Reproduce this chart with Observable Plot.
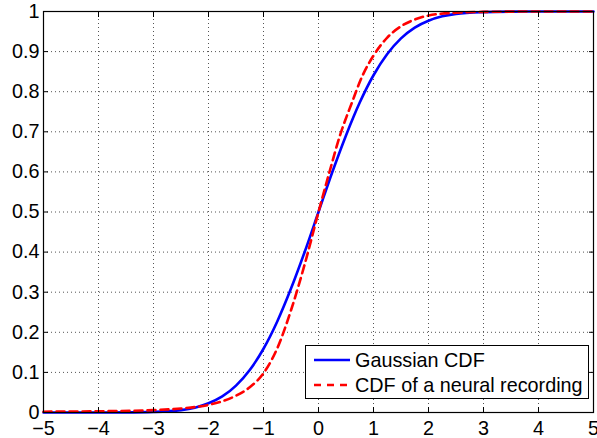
<!DOCTYPE html>
<html>
<head>
<meta charset="utf-8">
<script src="https://cdn.jsdelivr.net/npm/d3@7"></script>
<script src="https://cdn.jsdelivr.net/npm/@observablehq/plot@0.6"></script>
<style>
  html, body { margin: 0; padding: 0; background: white; }
  #chart { width: 597px; height: 438px; }
</style>
</head>
<body>
<div id="chart"></div>
<script>
const gaussX = [-5, -4, -3.5, -3, -2.5, -2.25, -2, -1.75, -1.5, -1.25, -1, -0.75, -0.5, -0.25, 0, 0.25, 0.5, 0.75, 1, 1.25, 1.5, 1.75, 2, 2.25, 2.5, 3, 3.5, 4, 5];
const gaussY = [0, 0.0001, 0.0003, 0.0015, 0.006, 0.012, 0.023, 0.04, 0.067, 0.106, 0.159, 0.227, 0.309, 0.401, 0.5, 0.599, 0.691, 0.773, 0.841, 0.894, 0.933, 0.96, 0.977, 0.988, 0.994, 0.9985, 0.9998, 1, 1];
const neuralX = [-5, -4, -3, -2.5, -2, -1.75, -1.5, -1.25, -1, -0.75, -0.5, -0.25, 0, 0.2, 0.4, 0.6, 0.8, 1, 1.25, 1.5, 1.75, 2, 2.5, 3, 4, 5];
const neuralY = [0.002, 0.003, 0.006, 0.01, 0.019, 0.028, 0.042, 0.063, 0.098, 0.16, 0.255, 0.37, 0.5, 0.6, 0.695, 0.77, 0.84, 0.89, 0.935, 0.963, 0.98, 0.99, 0.997, 0.999, 1, 1];
const xTicks = [-5, -4, -3, -2, -1, 0, 1, 2, 3, 4, 5];
const yTicks = [0, 0.1, 0.2, 0.3, 0.4, 0.5, 0.6, 0.7, 0.8, 0.9, 1];
const seriesNames = ["Gaussian CDF", "CDF of a neural recording"];

const gauss = gaussX.map((x, i) => ({x, y: gaussY[i]}));
const neural = neuralX.map((x, i) => ({x, y: neuralY[i]}));
const fmt = d3.format("");
const FONT = "'Liberation Sans', Arial, sans-serif";

const plot = Plot.plot({
  width: 597,
  height: 438,
  marginLeft: 43,
  marginRight: 4,
  marginTop: 11,
  marginBottom: 26,
  style: {fontFamily: FONT, fontSize: "19.8px", background: "white", color: "black"},
  x: {domain: [-5, 5], ticks: xTicks},
  y: {domain: [0, 1], ticks: yTicks},
  marks: [
    Plot.gridX(xTicks, {stroke: "#555", strokeOpacity: 1, strokeDasharray: "1,3", strokeWidth: 1}),
    Plot.gridY(yTicks, {stroke: "#555", strokeOpacity: 1, strokeDasharray: "1,3", strokeWidth: 1}),
    Plot.line(gauss, {x: "x", y: "y", stroke: "#0000ff", strokeWidth: 2.6, curve: "monotone-x"}),
    Plot.line(neural, {x: "x", y: "y", stroke: "#ff0000", strokeWidth: 2.6, strokeDasharray: "8,5", curve: "monotone-x"}),
    Plot.frame({stroke: "black", strokeWidth: 1.2}),
    Plot.axisX(xTicks, {anchor: "bottom", tickSize: 5, dy: -5, tickFormat: () => "", label: null, stroke: "black"}),
    Plot.axisX(xTicks, {anchor: "top", tickSize: 5, dy: 5, tickFormat: () => "", label: null, stroke: "black"}),
    Plot.axisY(yTicks, {anchor: "left", tickSize: 5, dx: 5, tickFormat: () => "", label: null, stroke: "black"}),
    Plot.axisY(yTicks, {anchor: "right", tickSize: 5, dx: -5, tickFormat: () => "", label: null, stroke: "black"}),
    Plot.axisX(xTicks, {anchor: "bottom", tickSize: 0, tickPadding: 8, tickFormat: fmt, label: null, fill: "black"}),
    Plot.axisY(yTicks, {anchor: "left", tickSize: 0, tickPadding: 4, tickFormat: fmt, label: null, fill: "black"})
  ]
});

const svg = d3.select(plot);
svg.style("overflow", "visible");
const lg = svg.append("g").style("font-family", FONT).style("font-size", "19.8px").attr("text-anchor", "start");
lg.append("rect").attr("x", 305.5).attr("y", 345.5).attr("width", 283).attr("height", 53)
  .attr("fill", "white").attr("stroke", "black").attr("stroke-width", 1);
const colors = ["#0000ff", "#ff0000"];
const dashes = [null, "7,6"];
seriesNames.forEach((name, i) => {
  const cy = 360 + i * 25;
  lg.append("line").attr("x1", 314).attr("x2", 350).attr("y1", cy).attr("y2", cy)
    .attr("stroke", colors[i]).attr("stroke-width", 2.6).attr("stroke-dasharray", dashes[i]);
  lg.append("text").attr("x", 355).attr("y", cy + 7).attr("fill", "black").attr("text-anchor", "start").text(name);
});

document.getElementById("chart").appendChild(plot);
</script>
</body>
</html>
